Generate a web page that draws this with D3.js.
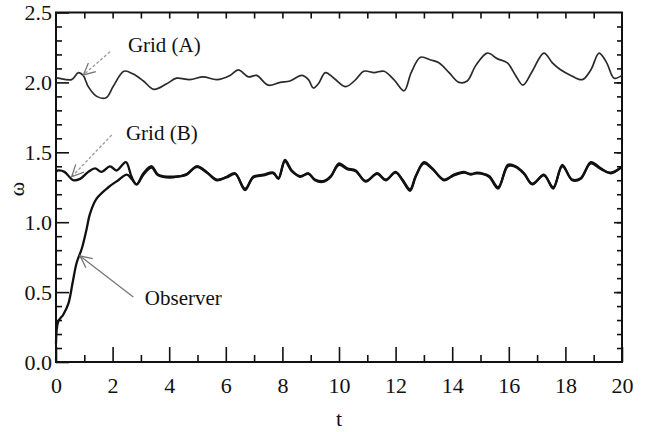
<!DOCTYPE html>
<html><head><meta charset="utf-8">
<script src="https://cdn.jsdelivr.net/npm/d3@7"></script>
<style>
body{margin:0;background:#fff;}
svg{display:block;font-family:"Liberation Serif","Times New Roman",serif;}
</style></head><body>
<svg id="c" width="648" height="432"></svg>
<script>
// ---- data ----
const tA = [0,0.08,0.55,0.79,0.96,1.14,1.44,1.77,2.02,2.40,2.73,3.09,3.46,3.91,4.26,4.73,5.20,5.68,6.15,6.44,6.80,7.09,7.50,7.92,8.27,8.68,8.92,9.09,9.27,9.52,9.82,10.24,10.59,10.88,11.24,11.59,11.94,12.30,12.55,12.88,13.24,13.53,13.89,14.24,14.53,14.83,15.24,15.59,15.95,16.24,16.50,16.83,17.24,17.54,17.83,18.19,18.60,18.90,19.19,19.46,19.72,20];
const vA = [2.03,2.03,2.02,2.07,2.05,1.97,1.90,1.89,1.97,2.08,2.06,2.01,1.95,1.99,2.03,2.02,2.04,2.02,2.05,2.09,2.04,2.05,1.98,2.00,2.01,2.05,2.02,1.96,1.99,2.07,2.03,1.97,2.02,2.08,2.07,2.08,2.02,1.94,2.07,2.18,2.16,2.14,2.07,2.00,2.01,2.12,2.21,2.17,2.14,2.05,1.98,2.08,2.21,2.14,2.09,2.05,2.02,2.09,2.21,2.14,2.03,2.05];

const tB = [0,0.08,0.30,0.61,0.85,1.14,1.38,1.61,1.91,2.14,2.47,2.67,2.85,3.09,3.38,3.61,4.14,4.62,4.97,5.32,5.68,6.03,6.33,6.68,6.97,7.33,7.68,7.86,8.09,8.33,8.62,8.92,9.15,9.47,9.71,10.0,10.29,10.59,10.94,11.35,11.65,12.00,12.24,12.51,12.71,13.00,13.30,13.71,14.06,14.42,14.65,14.88,15.30,15.62,15.97,16.24,16.54,16.83,17.24,17.57,17.89,18.24,18.54,18.90,19.25,19.60,20];
const vB = [1.36,1.37,1.36,1.30,1.31,1.36,1.385,1.36,1.40,1.37,1.43,1.325,1.27,1.35,1.40,1.34,1.325,1.34,1.40,1.36,1.30,1.325,1.35,1.23,1.325,1.34,1.355,1.31,1.445,1.37,1.325,1.35,1.30,1.29,1.325,1.42,1.385,1.37,1.29,1.35,1.30,1.36,1.30,1.225,1.325,1.43,1.385,1.30,1.34,1.36,1.34,1.355,1.325,1.24,1.41,1.40,1.35,1.27,1.34,1.24,1.41,1.30,1.31,1.43,1.385,1.35,1.40];

const tO = [0,0.08,0.26,0.44,0.59,0.73,0.91,1.08,1.20,1.44,1.85,2.20,2.50,2.67,2.85,3.09,3.38,3.61,4.14,4.62,4.97,5.32,5.68,6.03,6.33,6.68,6.97,7.33,7.68,7.86,8.09,8.33,8.62,8.92,9.15,9.47,9.71,10.0,10.29,10.59,10.94,11.35,11.65,12.00,12.24,12.51,12.71,13.00,13.30,13.71,14.06,14.42,14.65,14.88,15.30,15.62,15.97,16.24,16.54,16.83,17.24,17.57,17.89,18.24,18.54,18.90,19.25,19.60,20];
const vO = [0.13,0.29,0.34,0.42,0.57,0.71,0.81,0.95,1.06,1.17,1.25,1.30,1.34,1.31,1.27,1.34,1.39,1.335,1.32,1.345,1.395,1.355,1.305,1.32,1.345,1.24,1.32,1.335,1.35,1.315,1.435,1.365,1.33,1.345,1.305,1.295,1.33,1.41,1.38,1.365,1.295,1.345,1.305,1.355,1.305,1.235,1.33,1.42,1.38,1.305,1.335,1.355,1.345,1.35,1.33,1.25,1.40,1.395,1.345,1.275,1.335,1.25,1.40,1.305,1.315,1.42,1.38,1.355,1.395];

const xTickLabels = [0,2,4,6,8,10,12,14,16,18,20];
const yTickLabels = [0.0,0.5,1.0,1.5,2.0,2.5];

const labels = ["Grid (A)","Grid (B)","Observer"];
const labelPos = [[2.54,2.215],[2.47,1.588],[3.14,0.405]];
const arrowFrom = [[1.91,2.22],[1.97,1.624],[2.73,0.465]];
const arrowTo = [[0.965,2.053],[0.555,1.325],[0.85,0.758]];
const arrowDashed = [true,true,false];

// ---- drawing ----
const svg = d3.select("#c");
const L=56,R=622,T=12.5,B=362;
const x = d3.scaleLinear().domain([0,20]).range([L,R]);
const y = d3.scaleLinear().domain([0,2.5]).range([B,T]);

const fs = 22;
svg.append("g").attr("transform",`translate(0,${B})`)
  .call(d3.axisBottom(x).tickValues(xTickLabels).tickSize(-15).tickSizeOuter(0).tickPadding(15).tickFormat(d3.format("d")));
svg.append("g").attr("transform",`translate(0,${B})`)
  .call(d3.axisBottom(x).tickValues(d3.range(1,20,2)).tickSize(-7).tickSizeOuter(0).tickFormat(""));
svg.append("g").attr("transform",`translate(${L},0)`)
  .call(d3.axisLeft(y).tickValues(yTickLabels).tickSize(-13).tickSizeOuter(0).tickPadding(4).tickFormat(d3.format(".1f")));
svg.append("g").attr("transform",`translate(${L},0)`)
  .call(d3.axisLeft(y).tickValues(d3.range(1,25).filter(i=>i%5).map(i=>i/10)).tickSize(-6).tickSizeOuter(0).tickFormat(""));
svg.append("g").attr("transform",`translate(0,${T})`)
  .call(d3.axisTop(x).tickValues(d3.range(1,20)).tickSize(-6).tickSizeOuter(0).tickFormat(""));
svg.append("g").attr("transform",`translate(${R},0)`)
  .call(d3.axisRight(y).tickValues(d3.range(1,25).map(i=>i/10)).tickSize(-5).tickSizeOuter(0).tickFormat(""));
svg.append("g").attr("transform",`translate(${R},0)`)
  .call(d3.axisRight(y).tickValues([0.5,1.0,1.5,2.0]).tickSize(-8).tickSizeOuter(0).tickFormat(""));

svg.selectAll(".domain").remove();
svg.selectAll(".tick line").attr("stroke","#111").attr("stroke-width",1.6);
svg.selectAll(".tick text").attr("font-size",fs).attr("fill","#111")
  .attr("font-family","'Liberation Serif',serif");

svg.append("rect").attr("x",L).attr("y",T).attr("width",R-L).attr("height",B-T)
  .attr("fill","none").attr("stroke","#111").attr("stroke-width",2);

svg.append("text").attr("x",x(10)).attr("y",426).attr("text-anchor","middle")
  .attr("font-size",fs).attr("fill","#111").text("t");
svg.append("text").attr("transform",`translate(24,189) rotate(-90)`).attr("text-anchor","middle")
  .attr("font-size",fs).attr("fill","#111").text("ω");

const line = d3.line().x(d=>x(d[0])).y(d=>y(d[1])).curve(d3.curveCatmullRom.alpha(0.5));
svg.append("path").datum(d3.zip(tA,vA)).attr("d",line)
  .attr("fill","none").attr("stroke","#2a2a2a").attr("stroke-width",1.7);
svg.append("path").datum(d3.zip(tB,vB)).attr("d",line)
  .attr("fill","none").attr("stroke","#111").attr("stroke-width",2.3);
svg.append("path").datum(d3.zip(tO,vO)).attr("d",line)
  .attr("fill","none").attr("stroke","#111").attr("stroke-width",2.3);

labels.forEach((lab,i)=>{
  svg.append("text").attr("x",x(labelPos[i][0])).attr("y",y(labelPos[i][1]))
    .attr("font-size",21).attr("fill","#111").text(lab);
  const x0=x(arrowFrom[i][0]),y0=y(arrowFrom[i][1]),x1=x(arrowTo[i][0]),y1=y(arrowTo[i][1]);
  const col = arrowDashed[i] ? "#999" : "#777";
  svg.append("path").attr("d",d3.line()([[x0,y0],[x1,y1]]))
    .attr("stroke",col).attr("stroke-width",1.3).attr("fill","none")
    .attr("stroke-dasharray",arrowDashed[i]?"3,2":null);
  const ang=Math.atan2(y0-y1,x0-x1), len=13, spread=0.45;
  const h=[[x1+len*Math.cos(ang+spread),y1+len*Math.sin(ang+spread)],[x1,y1],[x1+len*Math.cos(ang-spread),y1+len*Math.sin(ang-spread)]];
  svg.append("path").attr("d",d3.line()(h)).attr("stroke","#777").attr("stroke-width",1.3).attr("fill","none");
});
</script>
</body></html>
